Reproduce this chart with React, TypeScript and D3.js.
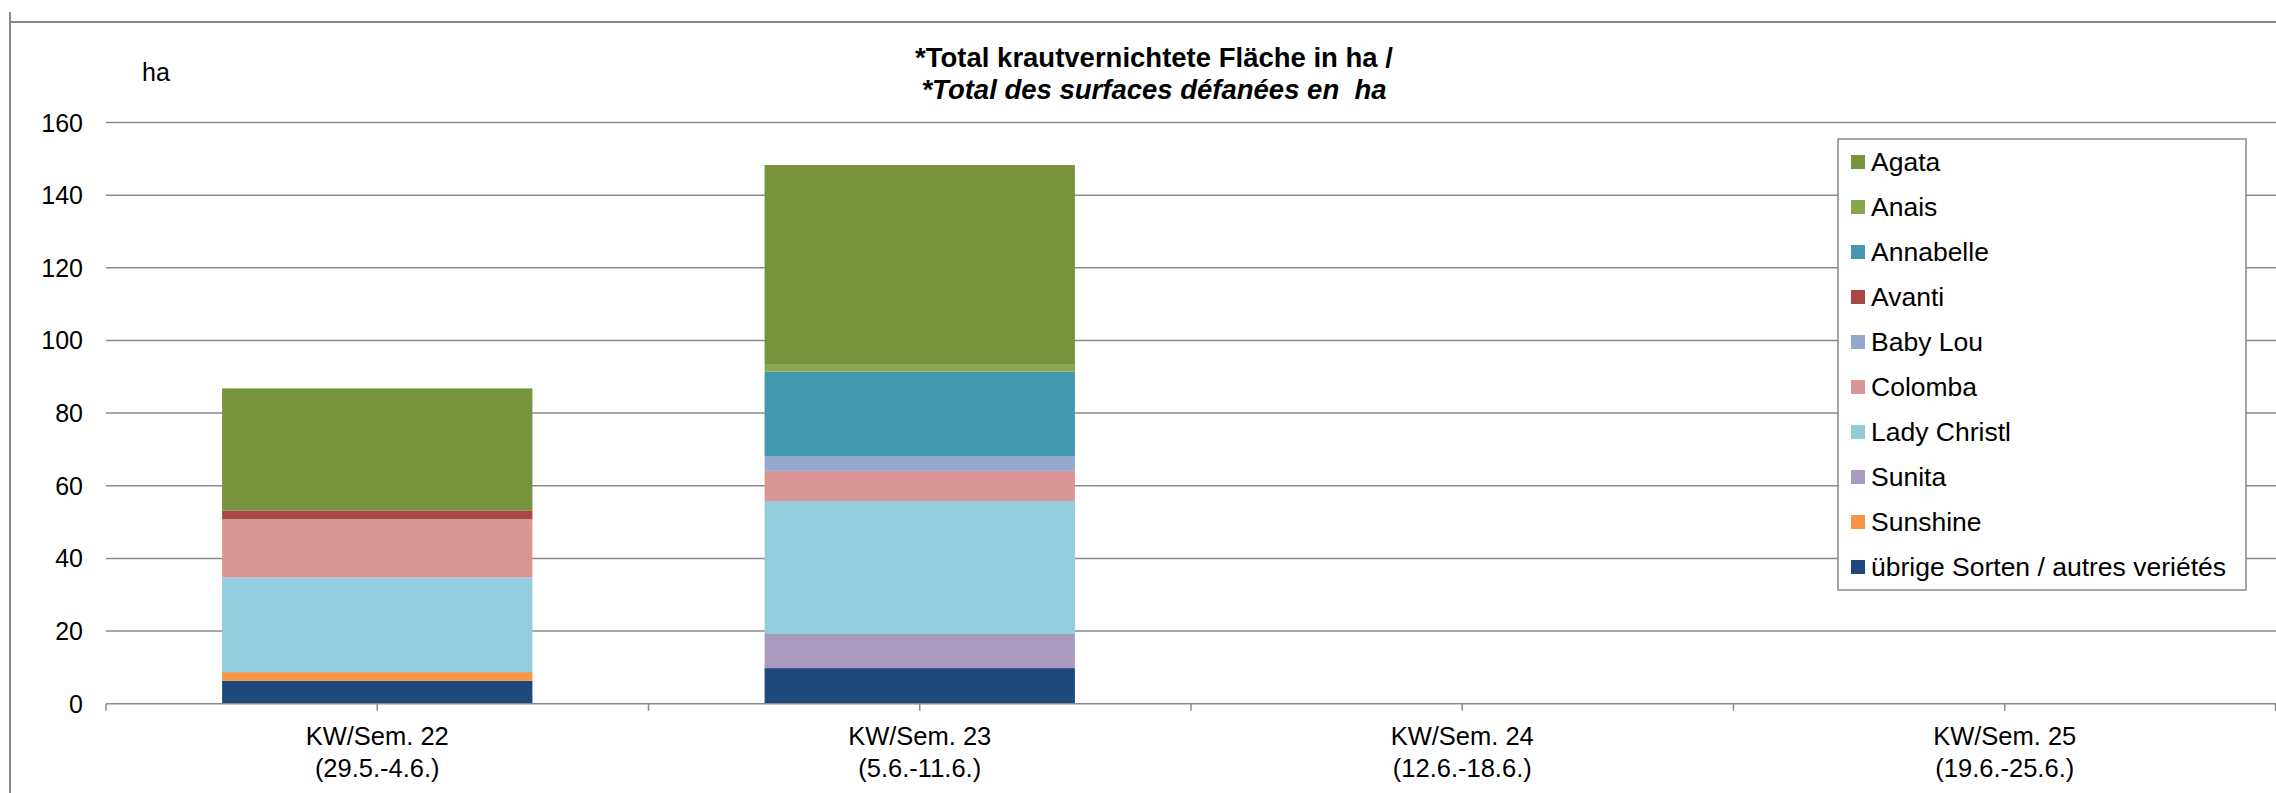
import React, { useEffect } from 'react';
import * as d3 from 'd3';

// categories (x axis)
const weeks = ['KW/Sem. 22', 'KW/Sem. 23', 'KW/Sem. 24', 'KW/Sem. 25'];
const dateRanges = ['(29.5.-4.6.)', '(5.6.-11.6.)', '(12.6.-18.6.)', '(19.6.-25.6.)'];

// series, in stacking order from bottom to top
const varieties = [
  'übrige Sorten / autres veriétés',
  'Sunshine',
  'Sunita',
  'Lady Christl',
  'Colomba',
  'Baby Lou',
  'Avanti',
  'Annabelle',
  'Anais',
  'Agata',
];
const colors = [
  '#1F497D', '#F79646', '#A99BBD', '#93CDDD', '#D99694',
  '#93A9CF', '#AA4643', '#4198AF', '#89A54E', '#77933C',
];

// values in ha per week
const uebrige = [6.3, 9.8, 0, 0];
const sunshine = [2.4, 0, 0, 0];
const sunita = [0, 9.4, 0, 0];
const ladyChristl = [26.1, 36.6, 0, 0];
const colomba = [16.0, 8.3, 0, 0];
const babyLou = [0, 4.1, 0, 0];
const avanti = [2.4, 0, 0, 0];
const annabelle = [0, 23.2, 0, 0];
const anais = [0, 2.1, 0, 0];
const agata = [33.6, 54.8, 0, 0];

const yTicks = [0, 20, 40, 60, 80, 100, 120, 140, 160];

const W = 2276;
const H = 793;
const FONT = 'Arial, "Liberation Sans", sans-serif';
const GRID = '#8a8a8a';

const App = () => {
  useEffect(() => {
    document.body.style.margin = '0';
  }, []);

  const seriesValues = [uebrige, sunshine, sunita, ladyChristl, colomba, babyLou, avanti, annabelle, anais, agata];
  const rows = weeks.map((w, i) => {
    const r: any = { week: w };
    varieties.forEach((v, j) => { r[v] = seriesValues[j][i]; });
    return r;
  });
  const stacked = d3.stack().keys(varieties)(rows);

  const x = d3.scaleBand().domain(weeks).range([106, 2276]).padding(0);
  const y = d3.scaleLinear().domain([0, 160]).range([703.7, 122.5]);
  const barW = x.bandwidth() * 0.572;

  // Excel draws a tick at every category edge and centre here
  const tickXs: number[] = [];
  weeks.forEach((w) => {
    tickXs.push(x(w)!);
    tickXs.push(x(w)! + x.bandwidth() / 2);
  });
  tickXs.push(2276 - 0.5);

  const legendItems = varieties.map((v, i) => ({ name: v, color: colors[i] })).reverse();

  return (
    <svg width={W} height={H} style={{ display: 'block', background: '#fff' }}>
      {/* outer frame */}
      <line x1={10} x2={W} y1={22} y2={22} stroke={GRID} strokeWidth={2} />
      <line x1={10} x2={10} y1={12} y2={H} stroke={GRID} strokeWidth={2} />

      {/* title */}
      <text x={1154} y={67} textAnchor="middle" fontFamily={FONT} fontSize={27.5} fontWeight="bold">
        *Total krautvernichtete Fläche in ha /
      </text>
      <text x={1154} y={99} textAnchor="middle" fontFamily={FONT} fontSize={27.5} fontWeight="bold"
        fontStyle="italic" style={{ whiteSpace: 'pre' }}>
        {'*Total des surfaces défanées en  ha'}
      </text>

      {/* unit */}
      <text x={142} y={81} fontFamily={FONT} fontSize={25}>ha</text>

      {/* gridlines + y labels */}
      {yTicks.map((t) => (
        <g key={t}>
          {t > 0 && (
            <line x1={106} x2={W} y1={y(t)} y2={y(t)} stroke={GRID} strokeWidth={1.5} />
          )}
          <text x={83} y={y(t) + 9} textAnchor="end" fontFamily={FONT} fontSize={25}>
            {t}
          </text>
        </g>
      ))}

      {/* bars */}
      {stacked.map((s, i) => (
        <g key={s.key} fill={colors[i]}>
          {s.map((d, j) => {
            const h = y(d[0]) - y(d[1]);
            if (h <= 0) return null;
            return (
              <rect
                key={j}
                x={x(weeks[j])! + (x.bandwidth() - barW) / 2}
                y={y(d[1])}
                width={barW}
                height={h}
              />
            );
          })}
        </g>
      ))}

      {/* x axis */}
      <line x1={106} x2={W} y1={y(0)} y2={y(0)} stroke={GRID} strokeWidth={1.5} />
      {tickXs.map((tx, i) => (
        <line key={i} x1={tx} x2={tx} y1={y(0)} y2={y(0) + 7} stroke={GRID} strokeWidth={1.5} />
      ))}
      {weeks.map((w, i) => (
        <g key={w} fontFamily={FONT} fontSize={25.5} textAnchor="middle">
          <text x={x(w)! + x.bandwidth() / 2} y={745}>{w}</text>
          <text x={x(w)! + x.bandwidth() / 2} y={777}>{dateRanges[i]}</text>
        </g>
      ))}

      {/* legend */}
      <rect x={1838} y={139} width={408} height={451} fill="#fff" stroke={GRID} strokeWidth={1.5} />
      {legendItems.map((d, i) => (
        <g key={d.name} transform={`translate(1851, ${162 + i * 45})`}>
          <rect x={0} y={-7} width={14} height={14} fill={d.color} />
          <text x={20} y={9} fontFamily={FONT} fontSize={26.5}>{d.name}</text>
        </g>
      ))}
    </svg>
  );
};

export default App;
